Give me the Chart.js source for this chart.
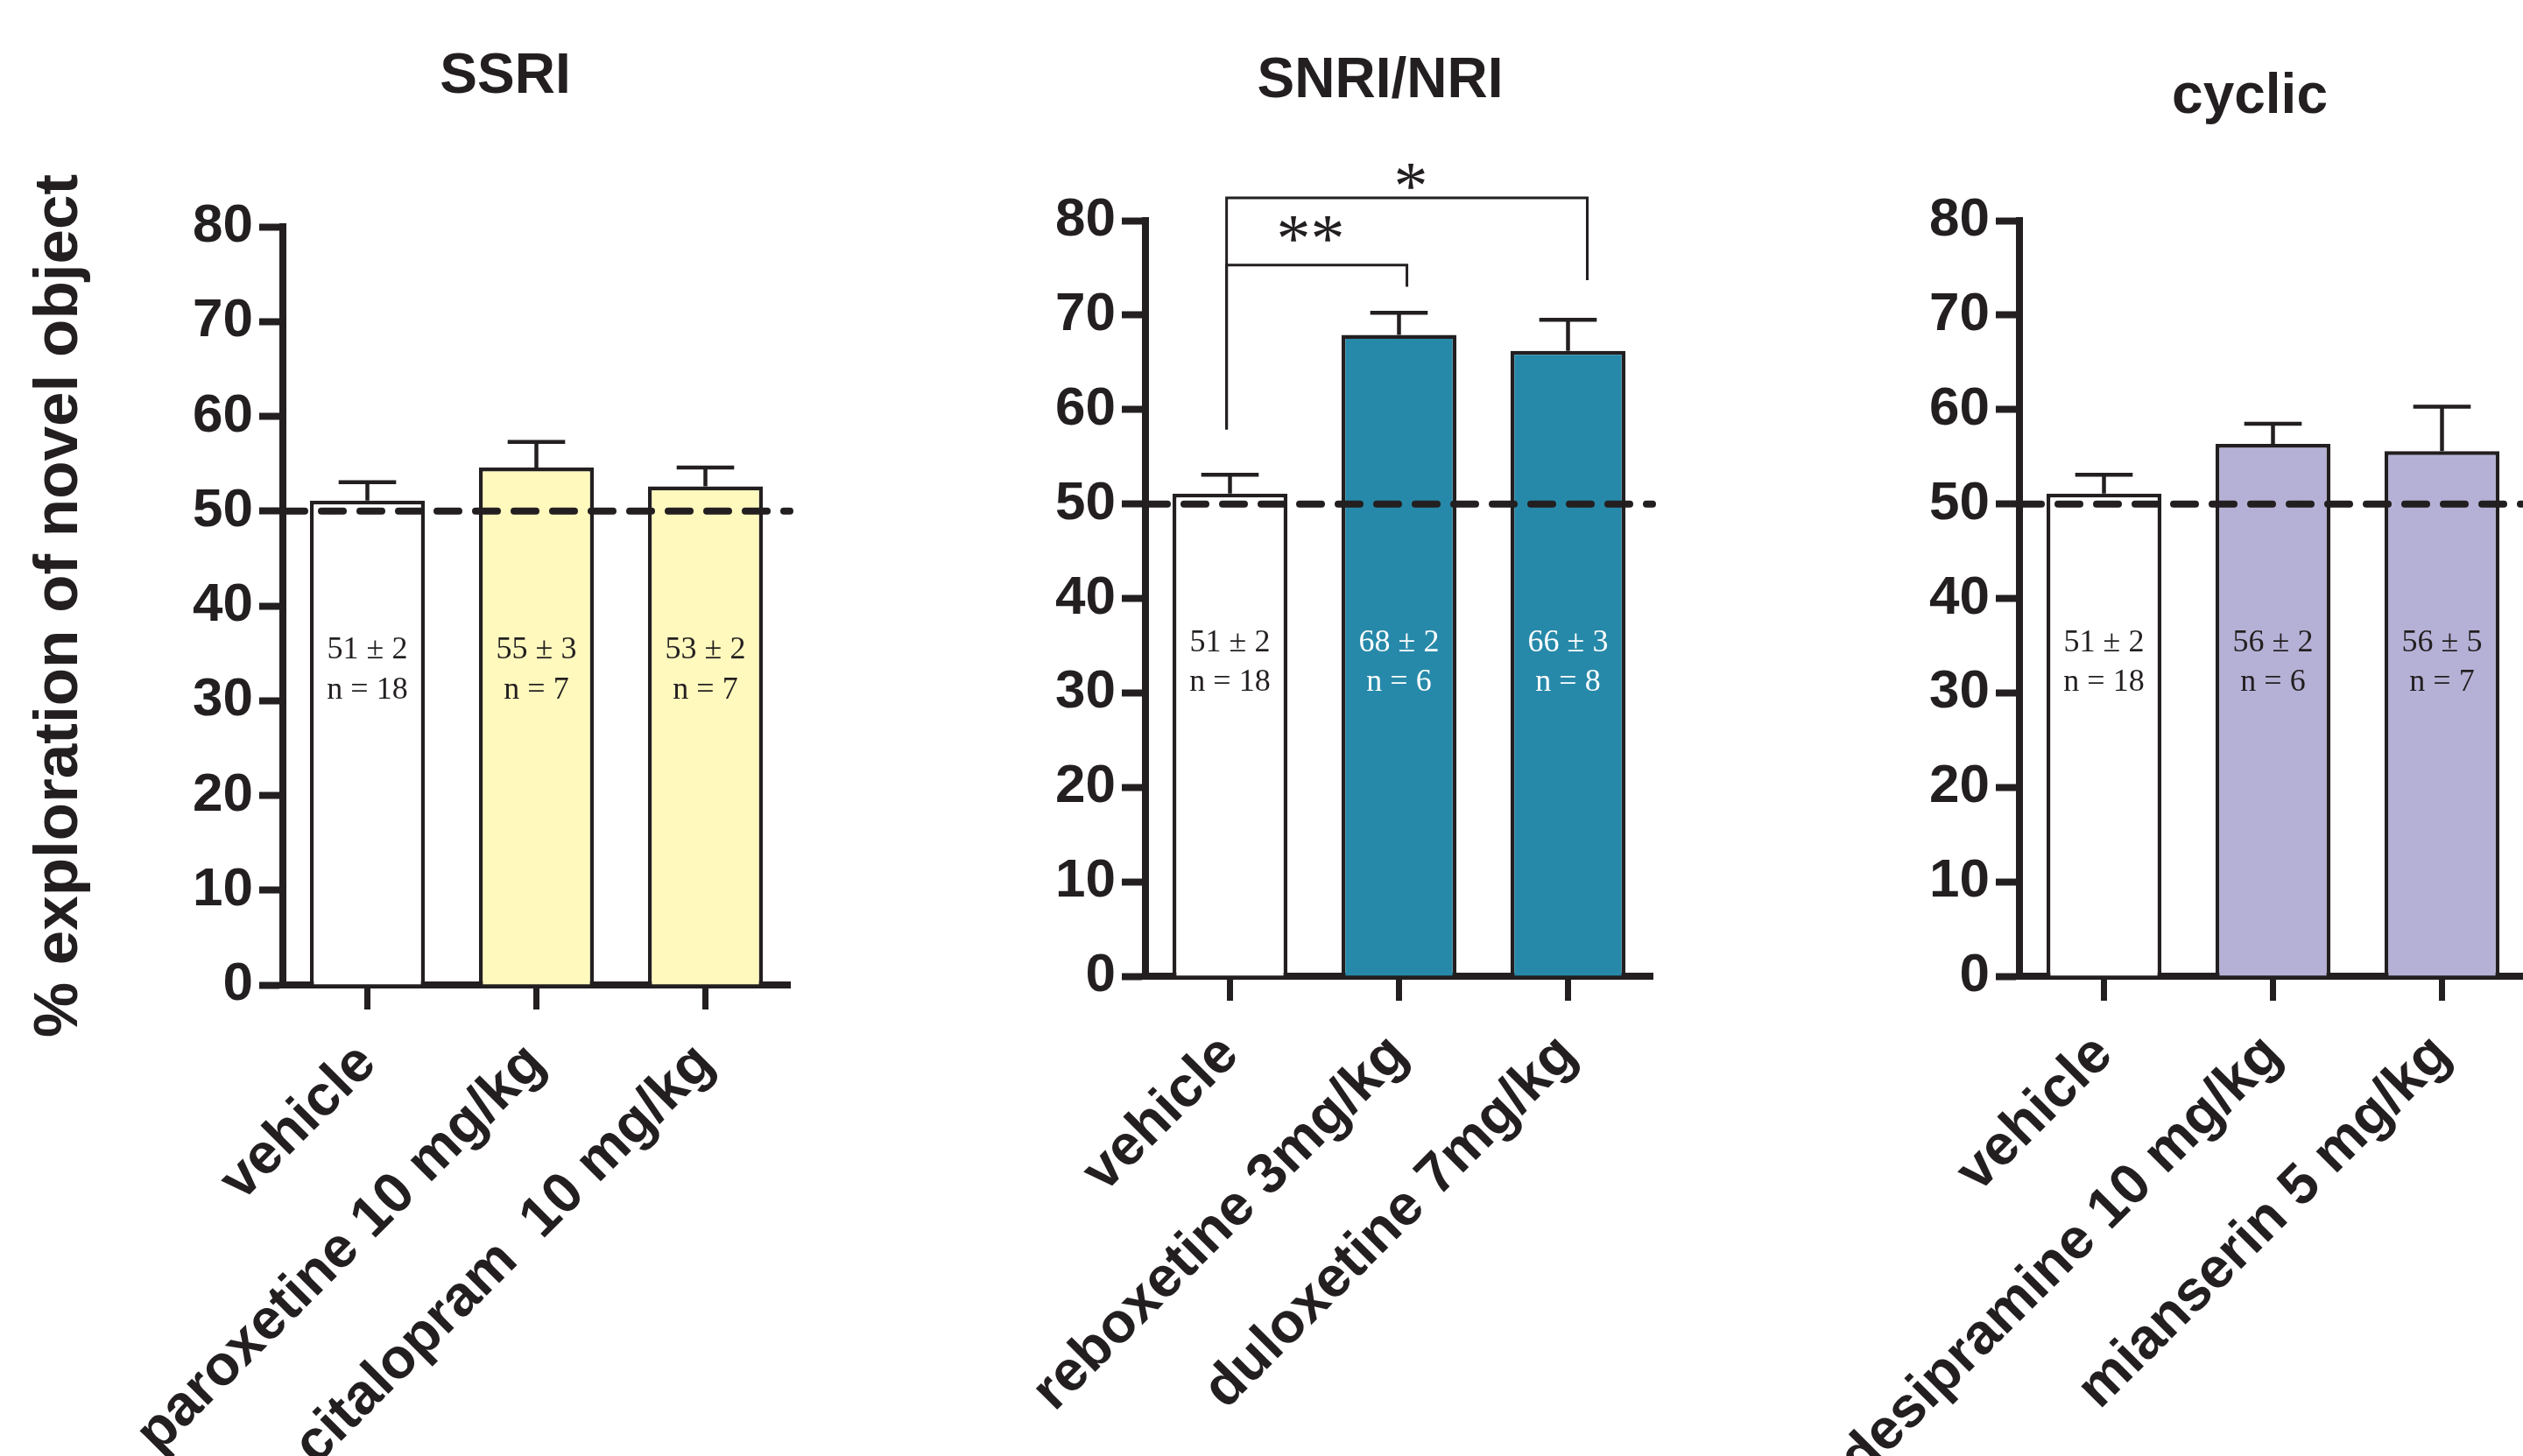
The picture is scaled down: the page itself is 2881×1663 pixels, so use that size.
<!DOCTYPE html>
<html>
<head>
<meta charset="utf-8">
<script src="https://cdn.jsdelivr.net/npm/chart.js@4/dist/chart.umd.min.js"></script>
<style>
  html, body { margin: 0; padding: 0; background: #ffffff; width: 2881px; height: 1663px; overflow: hidden; position: relative; }
  canvas { position: absolute; top: 0; }
</style>
</head>
<body>
<canvas id="c1" width="1154" height="1663" style="left:0px;width:1154px;height:1663px"></canvas>
<canvas id="c2" width="1152" height="1663" style="left:1000px;width:1152px;height:1663px"></canvas>
<canvas id="c3" width="1138" height="1663" style="left:2000px;width:1138px;height:1663px"></canvas>
<script>
// ---------------- data ----------------
const yAxisTitle = '% exploration of novel object';
const yTickValues = [0, 10, 20, 30, 40, 50, 60, 70, 80];
const chanceLevel = 50;

const ssriTitle = 'SSRI';
const ssriCategories = ['vehicle', 'paroxetine 10 mg/kg', 'citalopram  10 mg/kg'];
const ssriMeans = [51.1, 54.6, 52.6];
const ssriSem = [1.95, 2.7, 2.0];
const ssriMeanLabel = [51, 55, 53];
const ssriSemLabel = [2, 3, 2];
const ssriN = [18, 7, 7];

const snriTitle = 'SNRI/NRI';
const snriCategories = ['vehicle', 'reboxetine 3mg/kg', 'duloxetine 7mg/kg'];
const snriMeans = [51.1, 67.9, 66.2];
const snriSem = [2.0, 2.35, 3.3];
const snriMeanLabel = [51, 68, 66];
const snriSemLabel = [2, 2, 3];
const snriN = [18, 6, 8];

const cyclicTitle = 'cyclic';
const cyclicCategories = ['vehicle', 'desipramine 10 mg/kg', 'mianserin 5 mg/kg'];
const cyclicMeans = [51.1, 56.35, 55.6];
const cyclicSem = [2.0, 2.15, 4.7];
const cyclicMeanLabel = [51, 56, 56];
const cyclicSemLabel = [2, 2, 5];
const cyclicN = [18, 6, 7];

// significance brackets (SNRI/NRI panel), in category / value units
const bracketFrom = [-0.02, -0.02];
const bracketTo = [1.047, 2.114];
const bracketLevel = [75.3, 82.4];
const bracketLeftEnd = [57.9, 57.9];
const bracketRightEnd = [73.0, 73.7];
const bracketMark = ['**', '*'];
const bracketMarkX = [0.477, 1.07];
const bracketMarkY = [79.05, 84.6];

// value at which the "mean ± sem" / "n =" texts sit inside the bars
const statLine1 = 35.3;
const statLine2 = 31.1;

// ---------------- styles ----------------
const INK = '#231f20';
const SANS = '"Liberation Sans", Arial, Helvetica, sans-serif';
const SERIF = '"Liberation Serif", "Times New Roman", serif';
Chart.defaults.font.family = SANS;
Chart.defaults.color = INK;

function makeOverlay(p) {
  return {
    id: 'overlay' + p.key,
    afterDatasetsDraw(chart) {
      const ctx = chart.ctx, xs = chart.scales.x, ys = chart.scales.y, a = chart.chartArea;
      const bars = chart.getDatasetMeta(0).data;
      ctx.save();
      // error bars (SEM, upper only)
      ctx.strokeStyle = INK;
      ctx.lineCap = 'butt';
      ctx.lineWidth = 4.5;
      bars.forEach((b, i) => {
        const yTop = ys.getPixelForValue(p.means[i] + p.sem[i]);
        const half = b.width / 4;
        ctx.beginPath();
        ctx.moveTo(b.x, b.y); ctx.lineTo(b.x, yTop);
        ctx.moveTo(b.x - half, yTop); ctx.lineTo(b.x + half, yTop);
        ctx.stroke();
      });
      // chance level dashed line
      const yc = ys.getPixelForValue(chanceLevel);
      ctx.lineWidth = 8;
      ctx.lineCap = 'round';
      ctx.setLineDash([25, 19]);
      ctx.beginPath();
      ctx.moveTo(a.left, yc); ctx.lineTo(a.right, yc);
      ctx.stroke();
      ctx.setLineDash([]);
      // texts inside bars
      ctx.font = '36px ' + SERIF;
      ctx.textAlign = 'center';
      ctx.textBaseline = 'middle';
      bars.forEach((b, i) => {
        ctx.fillStyle = p.textColors[i];
        ctx.fillText(p.meanLabel[i] + ' ± ' + p.semLabel[i], b.x, ys.getPixelForValue(statLine1));
        ctx.fillText('n = ' + p.n[i], b.x, ys.getPixelForValue(statLine2));
      });
      // significance brackets
      if (p.brackets) {
        ctx.strokeStyle = INK;
        ctx.lineWidth = 3;
        ctx.lineCap = 'butt';
        ctx.fillStyle = INK;
        bracketFrom.forEach((f, k) => {
          const x1 = xs.getPixelForValue(f);
          const x2 = xs.getPixelForValue(bracketTo[k]);
          const yl = ys.getPixelForValue(bracketLevel[k]);
          ctx.beginPath();
          ctx.moveTo(x1, ys.getPixelForValue(bracketLeftEnd[k]));
          ctx.lineTo(x1, yl);
          ctx.lineTo(x2, yl);
          ctx.lineTo(x2, ys.getPixelForValue(bracketRightEnd[k]));
          ctx.stroke();
          ctx.font = '78px ' + SERIF;
          ctx.textAlign = 'center';
          ctx.textBaseline = 'alphabetic';
          ctx.fillText(bracketMark[k], xs.getPixelForValue(bracketMarkX[k]), ys.getPixelForValue(bracketMarkY[k]) + 36);
        });
      }
      ctx.restore();
    }
  };
}

function makePanel(p) {
  const yOpts = {
    z: 1,
    min: yTickValues[0],
    max: yTickValues[yTickValues.length - 1],
    ticks: { stepSize: yTickValues[1] - yTickValues[0], padding: 7, color: INK,
             font: { size: 62, weight: 'bold', family: SANS } },
    grid: { drawOnChartArea: false, drawTicks: true, tickLength: 27, tickWidth: 8, tickColor: INK },
    border: { display: true, width: 8, color: INK },
    afterFit: (s) => { s.width = p.yWidth; }
  };
  if (p.showYTitle) {
    yOpts.title = { display: true, text: yAxisTitle, color: INK,
                    font: { size: 71, weight: 'bold', family: SANS }, padding: { top: 26, bottom: 0 } };
  }
  return new Chart(document.getElementById(p.canvas), {
    type: 'bar',
    data: {
      labels: p.categories,
      datasets: [{
        data: p.means,
        backgroundColor: p.colors,
        borderColor: INK,
        borderWidth: 4.5,
        borderSkipped: 'start',
        barPercentage: 0.68,
        categoryPercentage: 1.0
      }]
    },
    options: {
      responsive: false,
      animation: false,
      devicePixelRatio: 1,
      layout: { padding: 0 },
      plugins: {
        legend: { display: false },
        tooltip: { enabled: false },
        title: { display: true, text: p.title, color: INK,
                 font: { size: 64, weight: 'bold', family: SANS, lineHeight: 1.2 },
                 padding: { top: p.titleTop, bottom: p.titleBottom } }
      },
      scales: {
        x: {
          z: 1,
          offset: true,
          ticks: { autoSkip: false, minRotation: 45, maxRotation: 45, padding: 24, color: INK,
                   font: { size: 65, weight: 'bold', family: SANS } },
          grid: { offset: false, drawOnChartArea: false, drawTicks: true, tickLength: 28, tickWidth: 7, tickColor: INK },
          border: { display: true, width: 8, color: INK },
          afterFit: (s) => { s.height = p.xHeight; }
        },
        y: yOpts,
        // empty spacer axis on the right: keeps the panel title centred like the original
        yRight: {
          type: 'linear', position: 'right', display: true,
          ticks: { display: false }, grid: { display: false }, border: { display: false },
          afterFit: (s) => { s.width = p.rightWidth; }
        }
      }
    },
    plugins: [makeOverlay(p)]
  });
}

makePanel({
  key: 'ssri', canvas: 'c1', title: ssriTitle, categories: ssriCategories,
  means: ssriMeans, sem: ssriSem, meanLabel: ssriMeanLabel, semLabel: ssriSemLabel, n: ssriN,
  colors: ['#ffffff', '#fff9bd', '#fff9bd'], textColors: [INK, INK, INK],
  showYTitle: true,
  yWidth: 323, rightWidth: 252, xHeight: 538, titleTop: 49.6, titleBottom: 132.6
});
makePanel({
  key: 'snri', canvas: 'c2', title: snriTitle, categories: snriCategories,
  means: snriMeans, sem: snriSem, meanLabel: snriMeanLabel, semLabel: snriSemLabel, n: snriN,
  colors: ['#ffffff', '#2789a9', '#2789a9'], textColors: [INK, '#ffffff', '#ffffff'],
  brackets: true, showYTitle: false,
  yWidth: 308, rightWidth: 265, xHeight: 548, titleTop: 54.6, titleBottom: 120.6
});
makePanel({
  key: 'cyclic', canvas: 'c3', title: cyclicTitle, categories: cyclicCategories,
  means: cyclicMeans, sem: cyclicSem, meanLabel: cyclicMeanLabel, semLabel: cyclicSemLabel, n: cyclicN,
  colors: ['#ffffff', '#b5b1d6', '#b5b1d6'], textColors: [INK, INK, INK],
  showYTitle: false,
  yWidth: 306, rightWidth: 253, xHeight: 548, titleTop: 72.6, titleBottom: 102.6
});
</script>
</body>
</html>
